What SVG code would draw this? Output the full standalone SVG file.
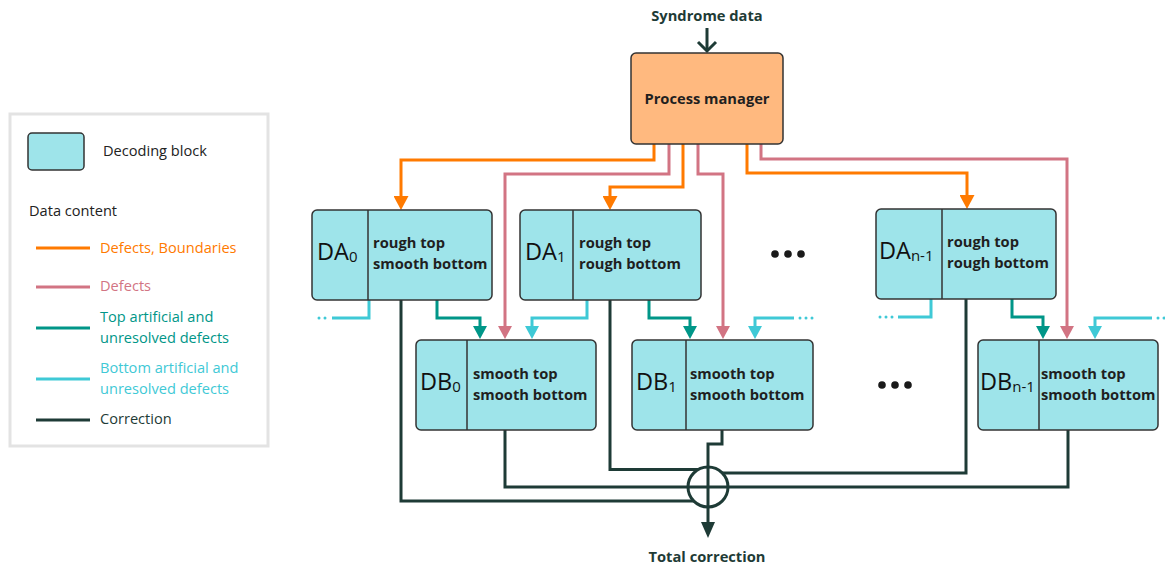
<svg xmlns="http://www.w3.org/2000/svg" width="1165" height="564" viewBox="0 0 1165 564">
<style>
text{font-family:"Open Sans","Noto Sans","Liberation Sans",sans-serif;}
.lbl{font-size:14.7px;font-weight:700;fill:#1f1f1f;}
.big{font-size:23.5px;fill:#111;}
.sub{font-size:15px;fill:#111;}
.blk{fill:#9ee4ea;stroke:#333;stroke-width:1.5;}
.div{stroke:#333;stroke-width:1.5;}
.c{fill:none;stroke-width:3;}
.or{stroke:#ff7a00;}
.pk{stroke:#d27483;}
.tl{stroke:#009688;}
.cy{stroke:#3fc9d6;}
.dk{stroke:#1e3b36;}
.dots{fill:none;stroke-width:3;stroke-linecap:round;stroke-dasharray:0 6;}
.leg{font-size:14.6px;fill:#222;}
.title{font-size:14.7px;font-weight:700;fill:#1e3b36;}
</style>
<defs>
<marker id="aOr" viewBox="0 0 14 15" refX="0" refY="7.5" markerWidth="14" markerHeight="15" markerUnits="userSpaceOnUse" orient="auto"><path d="M0,0 L14,7.5 L0,15 Z" fill="#ff7a00"/></marker>
<marker id="aPk" viewBox="0 0 13 14" refX="0" refY="7" markerWidth="13" markerHeight="14" markerUnits="userSpaceOnUse" orient="auto"><path d="M0,0 L13,7 L0,14 Z" fill="#d27483"/></marker>
<marker id="aTl" viewBox="0 0 13 14" refX="0" refY="7" markerWidth="13" markerHeight="14" markerUnits="userSpaceOnUse" orient="auto"><path d="M0,0 L13,7 L0,14 Z" fill="#009688"/></marker>
<marker id="aCy" viewBox="0 0 13 14" refX="0" refY="7" markerWidth="13" markerHeight="14" markerUnits="userSpaceOnUse" orient="auto"><path d="M0,0 L13,7 L0,14 Z" fill="#3fc9d6"/></marker>
<marker id="aDk" viewBox="0 0 16 14" refX="0" refY="7" markerWidth="16" markerHeight="14" markerUnits="userSpaceOnUse" orient="auto"><path d="M0,0 L16,7 L0,14 Z" fill="#1e3b36"/></marker>
</defs>
<rect width="1165" height="564" fill="#fff"/>

<g id="legend">
<rect x="10" y="114" width="258" height="332" fill="#fff" stroke="#e3e3e3" stroke-width="3"/>
<rect class="blk" x="28" y="133" width="56" height="37" rx="4"/>
<text class="leg" x="103" y="156">Decoding block</text>
<text class="leg" x="29" y="216">Data content</text>
<line class="c or" x1="36" y1="248" x2="90" y2="248"/>
<text class="leg" x="100" y="253" style="fill:#ff7a00">Defects, Boundaries</text>
<line class="c pk" x1="36" y1="287" x2="90" y2="287"/>
<text class="leg" x="100" y="291" style="fill:#d27483">Defects</text>
<line class="c tl" x1="36" y1="328" x2="90" y2="328"/>
<text class="leg" x="100" y="322" style="fill:#009688">Top artificial and</text>
<text class="leg" x="100" y="343" style="fill:#009688">unresolved defects</text>
<line class="c cy" x1="36" y1="379" x2="90" y2="379"/>
<text class="leg" x="100" y="373" style="fill:#3fc9d6">Bottom artificial and</text>
<text class="leg" x="100" y="394" style="fill:#3fc9d6">unresolved defects</text>
<line class="c dk" x1="36" y1="420" x2="90" y2="420"/>
<text class="leg" x="100" y="424" style="fill:#1e3b36">Correction</text>
</g>

<g id="connectors">
<path class="c dk" d="M707,28 V51"/>
<path class="c dk" d="M698,42 L707,51 L716,42"/>
<path class="c or" d="M654,144 V160 H401 V196" marker-end="url(#aOr)"/>
<path class="c or" d="M683,144 V187 H610 V196" marker-end="url(#aOr)"/>
<path class="c or" d="M747,144 V173 H967 V195" marker-end="url(#aOr)"/>
<path class="c pk" d="M669,144 V174 H505 V326" marker-end="url(#aPk)"/>
<path class="c pk" d="M698,144 V174 H723 V326" marker-end="url(#aPk)"/>
<path class="c pk" d="M761,144 V159 H1067 V326" marker-end="url(#aPk)"/>
<path class="c tl" d="M437,300 V318 H480 V326" marker-end="url(#aTl)"/>
<path class="c tl" d="M649,300 V318 H690 V326" marker-end="url(#aTl)"/>
<path class="c tl" d="M1012,299 V317 H1043 V326" marker-end="url(#aTl)"/>
<path class="c cy" d="M587,300 V318 H532 V326" marker-end="url(#aCy)"/>
<path class="c cy" d="M794,318 H755 V326" marker-end="url(#aCy)"/>
<path class="c cy" d="M1152,318 H1095 V326" marker-end="url(#aCy)"/>
<path class="c cy" d="M369,300 V318 H332"/>
<path class="c cy" d="M931,299 V317 H898"/>
<path class="dots cy" d="M319,318 H326"/>
<path class="dots cy" d="M800,318 H813"/>
<path class="dots cy" d="M880,317 H893"/>
<path class="dots cy" d="M1158,318 H1165"/>
<path class="c dk" d="M401,300 V501 H700"/>
<path class="c dk" d="M505,430 V487 H700"/>
<path class="c dk" d="M610,300 V469.5 H700"/>
<path class="c dk" d="M966,299 V473 H716"/>
<path class="c dk" d="M1068,430 V487 H716"/>
<path class="c dk" d="M722,430 V444 H708 V522" marker-end="url(#aDk)"/>
<circle cx="708" cy="487" r="20" fill="#fff" stroke="#1e3b36" stroke-width="3"/>
<path class="c dk" d="M688,487 H728 M708,467 V507"/>
</g>

<g id="syndrome"><text class="title" x="707" y="21" text-anchor="middle">Syndrome data</text></g>
<g id="total"><text class="title" x="707" y="562" text-anchor="middle">Total correction</text></g>

<g id="pm">
<rect x="631" y="53" width="152" height="91" rx="5" fill="#ffb97f" stroke="#333" stroke-width="1.5"/>
<text class="lbl" x="707" y="104" text-anchor="middle">Process manager</text>
</g>

<g id="DA0">
<rect class="blk" x="312" y="210" width="180" height="90" rx="5"/>
<line class="div" x1="368" y1="210" x2="368" y2="300"/>
<text x="317" y="260"><tspan class="big">DA</tspan><tspan class="sub" dy="2">0</tspan></text>
<text class="lbl" x="373" y="248">rough top</text>
<text class="lbl" x="373" y="269">smooth bottom</text>
</g>
<g id="DA1">
<rect class="blk" x="520" y="210" width="181" height="90" rx="5"/>
<line class="div" x1="573" y1="210" x2="573" y2="300"/>
<text x="525" y="260"><tspan class="big">DA</tspan><tspan class="sub" dy="2">1</tspan></text>
<text class="lbl" x="579" y="248">rough top</text>
<text class="lbl" x="579" y="269">rough bottom</text>
</g>
<g id="DAn1">
<rect class="blk" x="876" y="209" width="180" height="90" rx="5"/>
<line class="div" x1="942" y1="209" x2="942" y2="299"/>
<text x="879" y="259"><tspan class="big">DA</tspan><tspan class="sub" dy="2">n-1</tspan></text>
<text class="lbl" x="947" y="247">rough top</text>
<text class="lbl" x="947" y="268">rough bottom</text>
</g>
<g id="DB0">
<rect class="blk" x="416" y="340" width="180" height="90" rx="5"/>
<line class="div" x1="467" y1="340" x2="467" y2="430"/>
<text x="420" y="390"><tspan class="big">DB</tspan><tspan class="sub" dy="2">0</tspan></text>
<text class="lbl" x="473" y="379">smooth top</text>
<text class="lbl" x="473" y="400">smooth bottom</text>
</g>
<g id="DB1">
<rect class="blk" x="632" y="340" width="181" height="90" rx="5"/>
<line class="div" x1="686" y1="340" x2="686" y2="430"/>
<text x="636" y="390"><tspan class="big">DB</tspan><tspan class="sub" dy="2">1</tspan></text>
<text class="lbl" x="690" y="379">smooth top</text>
<text class="lbl" x="690" y="400">smooth bottom</text>
</g>
<g id="DBn1">
<rect class="blk" x="978" y="340" width="180" height="90" rx="5"/>
<line class="div" x1="1039" y1="340" x2="1039" y2="430"/>
<text x="980" y="390"><tspan class="big">DB</tspan><tspan class="sub" dy="2">n-1</tspan></text>
<text class="lbl" x="1041" y="379">smooth top</text>
<text class="lbl" x="1041" y="400">smooth bottom</text>
</g>

<g id="ellipsis1" fill="#1a1a1a"><circle cx="775" cy="254" r="3.8"/><circle cx="788" cy="254" r="3.8"/><circle cx="801" cy="254" r="3.8"/></g>
<g id="ellipsis2" fill="#1a1a1a"><circle cx="882" cy="385" r="3.8"/><circle cx="895" cy="385" r="3.8"/><circle cx="908" cy="385" r="3.8"/></g>
</svg>
